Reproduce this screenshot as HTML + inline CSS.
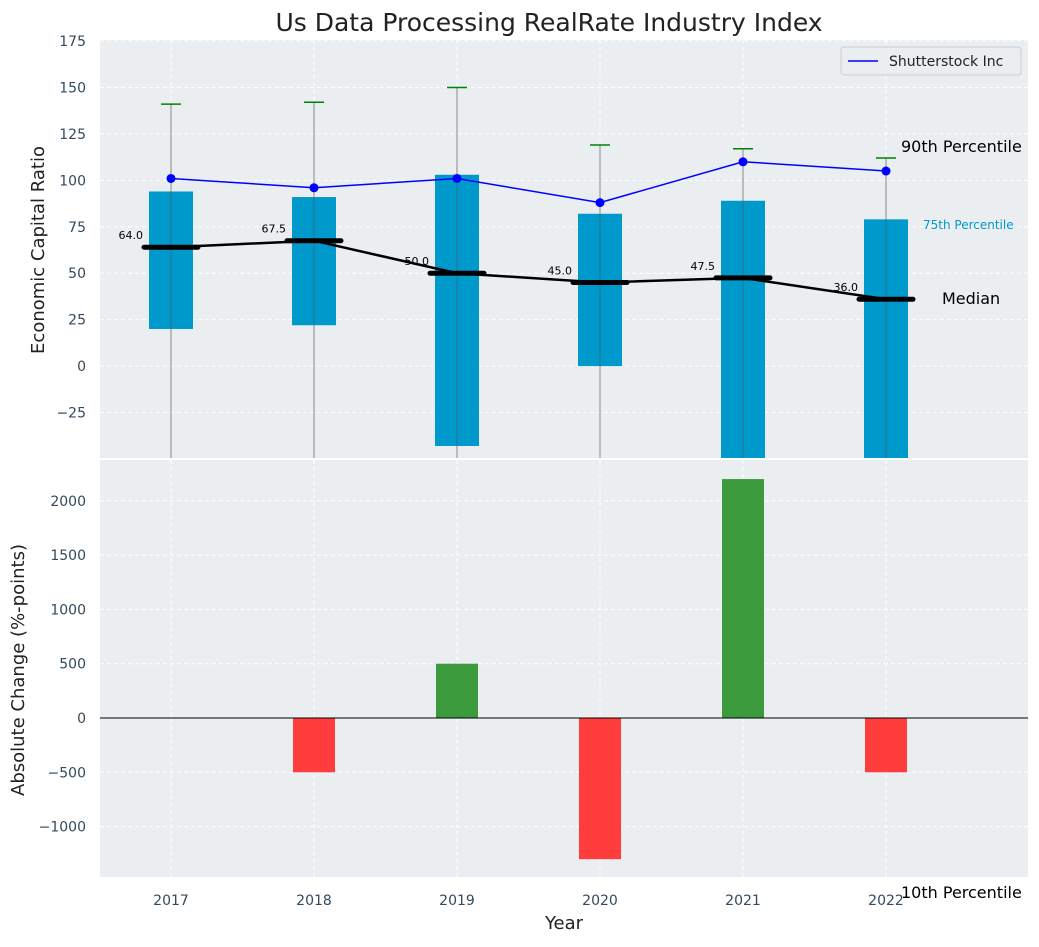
<!DOCTYPE html>
<html><head><meta charset="utf-8"><style>
body{margin:0;background:#fff;font-family:"Liberation Sans","DejaVu Sans",sans-serif}
svg text{font-family:"DejaVu Sans","Liberation Sans",sans-serif}
</style></head><body>
<svg id="c" width="1039" height="942" xmlns="http://www.w3.org/2000/svg"></svg>
<script>
const years=[2017,2018,2019,2020,2021,2022];
const p25=[20,22,-43,0,-60,-60];
const p75=[94,91,103,82,89,79];
const p90=[141,142,150,119,117,112];
const p10=[-60,-60,-60,-60,-60,-60];
const medians=[64,67.5,50,45,47.5,36];
const shutter=[101,96,101,88,110,105];
const changes=[0,-500,500,-1300,2200,-500];
const topTicks=[-25,0,25,50,75,100,125,150,175];
const botTicks=[-1000,-500,0,500,1000,1500,2000];
const NS="http://www.w3.org/2000/svg";
const svg=document.getElementById('c');
function el(t,a,p){const e=document.createElementNS(NS,t);for(const k in a)e.setAttribute(k,a[k]);(p||svg).appendChild(e);return e;}
const L=100,R=1028,T1=40,B1=458,T2=460,B2=877;
const x=v=>171+(v-2017)*143;
const y1=v=>T1+(175-v)/(225)*(B1-T1)+1;
const y2=v=>718-v*0.1086;
let e=el('rect',{x:L,y:T1,width:R-L,height:B1-T1,fill:'#eaeef0'});

e=el('rect',{x:L,y:T2,width:R-L,height:B2-T2,fill:'#eaeef0'});

years.forEach(yr=>{el('line',{x1:x(yr),x2:x(yr),y1:T1,y2:B1,stroke:'#fff','stroke-dasharray':'4,3'});el('line',{x1:x(yr),x2:x(yr),y1:T2,y2:B2,stroke:'#fff','stroke-dasharray':'4,3'});
 e=el('text',{x:x(yr),y:905,'text-anchor':'middle','font-size':14,fill:'#34495e'});e.textContent=yr;
 });
topTicks.forEach(t=>{el('line',{x1:L,x2:R,y1:y1(t),y2:y1(t),stroke:'#fff','stroke-dasharray':'4,3'});
 e=el('text',{x:L-14,y:y1(t)+5,'text-anchor':'end','font-size':14,fill:'#34495e'});e.textContent=t<0?'\u2212'+(-t):t;
 });
botTicks.forEach(t=>{el('line',{x1:L,x2:R,y1:y2(t),y2:y2(t),stroke:'#fff','stroke-dasharray':'4,3'});
 e=el('text',{x:L-14,y:y2(t)+5,'text-anchor':'end','font-size':14,fill:'#34495e'});e.textContent=t<0?'\u2212'+(-t):t;
 });
const defs=el('defs',{});const cp=el('clipPath',{id:'cp1'},defs);el('rect',{x:L,y:T1,width:R-L,height:B1-T1},cp);
const g=el('g',{'clip-path':'url(#cp1)'});
years.forEach((yr,i)=>{
 e=el('line',{x1:x(yr),x2:x(yr),y1:y1(p90[i]),y2:y1(p10[i]),stroke:'#888','stroke-width':1},g);
 
 e=el('rect',{x:x(yr)-22,y:y1(p75[i]),width:44,height:y1(p25[i])-y1(p75[i]),fill:'#0099cc'},g);
 
 el('line',{x1:x(yr),x2:x(yr),y1:y1(p75[i]),y2:y1(p25[i]),stroke:'#555','stroke-width':1,opacity:0.6},g);
 e=el('line',{x1:x(yr)-10,x2:x(yr)+10,y1:y1(p90[i]),y2:y1(p90[i]),stroke:'green','stroke-width':1.5},g);
 
});
e=el('polyline',{points:years.map((yr,i)=>x(yr)+','+y1(medians[i])).join(' '),fill:'none',stroke:'#000','stroke-width':2.5},g);

years.forEach((yr,i)=>{e=el('line',{x1:x(yr)-27,x2:x(yr)+27,y1:y1(medians[i]),y2:y1(medians[i]),stroke:'#000','stroke-width':5,'stroke-linecap':'round'},g);
 
 e=el('text',{x:x(yr)-28,y:y1(medians[i])-8,'text-anchor':'end','font-size':11,fill:'#000'},g);e.textContent=medians[i].toFixed(1);
 });
e=el('polyline',{points:years.map((yr,i)=>x(yr)+','+y1(shutter[i])).join(' '),fill:'none',stroke:'blue','stroke-width':1.5},g);

years.forEach((yr,i)=>{e=el('circle',{cx:x(yr),cy:y1(shutter[i]),r:4.5,fill:'blue'},g);
 });
years.forEach((yr,i)=>{const v=changes[i];if(v===0)return;
 e=el('rect',{x:x(yr)-21,y:Math.min(y2(v),y2(0)),width:42,height:Math.abs(y2(v)-y2(0)),fill:v>0?'#3a9a3c':'#ff3d3d'});
 });
el('line',{x1:L,x2:R,y1:y2(0),y2:y2(0),stroke:'#000','stroke-width':1});
function txt(s,a,name){const t=el('text',a);t.textContent=s;return t;}
txt('Us Data Processing RealRate Industry Index',{x:549,y:31,'text-anchor':'middle','font-size':25,fill:'#222'},'chart-title');
txt('Economic Capital Ratio',{x:44,y:250,'text-anchor':'middle','font-size':18,fill:'#222',transform:'rotate(-90 44 250)'},'top-y-axis-title');
txt('Absolute Change (%-points)',{x:24,y:670,'text-anchor':'middle','font-size':18,fill:'#222',transform:'rotate(-90 24 670)'},'bottom-y-axis-title');
txt('Year',{x:564,y:929,'text-anchor':'middle','font-size':18,fill:'#222'},'x-axis-title');
txt('90th Percentile',{x:901,y:152,'font-size':16,fill:'#000'},'p90-annotation');
txt('75th Percentile',{x:923,y:229,'font-size':12,fill:'#0099cc'},'p75-annotation');
txt('Median',{x:942,y:304,'font-size':16,fill:'#000'},'median-annotation');
txt('10th Percentile',{x:901,y:898,'font-size':16,fill:'#000'},'p10-annotation');
const lg=el('g',{});
el('rect',{x:841,y:47,width:180,height:28,rx:3,fill:'#eaeef0',stroke:'#ccc'},lg);
el('line',{x1:848,x2:878,y1:61,y2:61,stroke:'blue','stroke-width':1.5},lg);
const lt=el('text',{x:889,y:66,'font-size':14,fill:'#222'},lg);lt.textContent='Shutterstock Inc';
</script>
</body></html>
